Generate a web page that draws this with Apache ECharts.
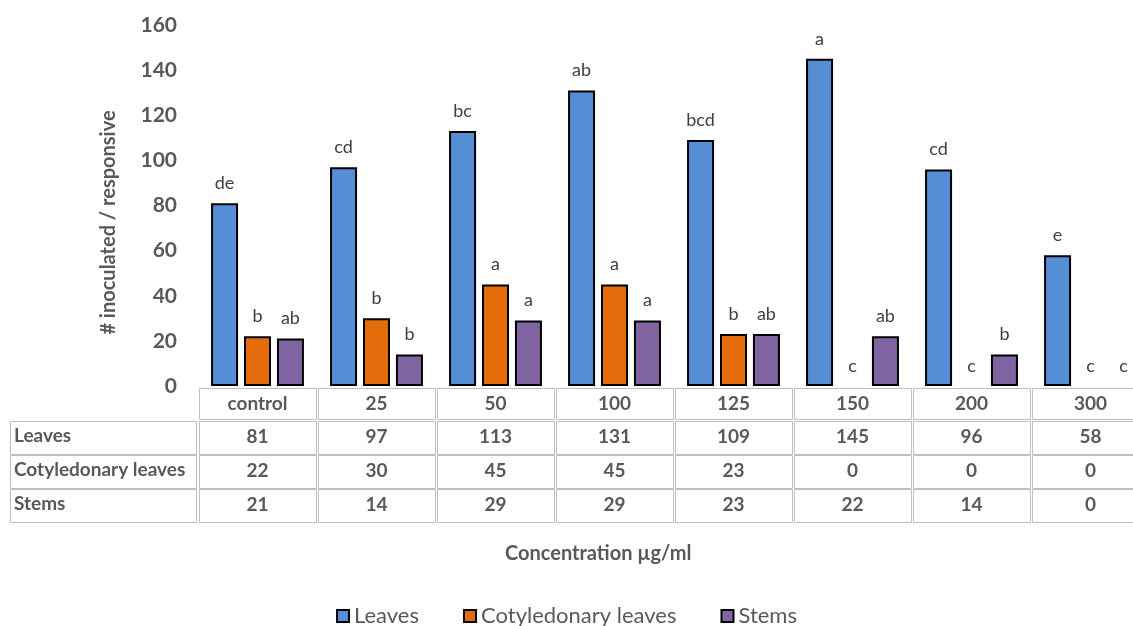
<!DOCTYPE html>
<html style="height: 100%">

<head>
    <meta charset="utf-8">
</head>

<body style="height: 100%; margin: 0; background: #fff">
    <div id="container" style="width: 1133px; height: 626px"></div>
    <script type="text/javascript" src="https://cdn.jsdelivr.net/npm/echarts@6/dist/echarts.min.js"></script>
    <script type="text/javascript">
        // chart data
        var categories = ['control', '25', '50', '100', '125', '150', '200', '300'];
        var leaves = [81, 97, 113, 131, 109, 145, 96, 58];
        var cotyledonary = [22, 30, 45, 45, 23, 0, 0, 0];
        var stems = [21, 14, 29, 29, 23, 22, 14, 0];
        var leavesSig = ['de', 'cd', 'bc', 'ab', 'bcd', 'a', 'cd', 'e'];
        var cotyledonarySig = ['b', 'b', 'a', 'a', 'b', 'c', 'c', 'c'];
        var stemsSig = ['ab', 'b', 'a', 'a', 'ab', 'ab', 'b', 'c'];
        var seriesNames = ['Leaves', 'Cotyledonary leaves', 'Stems'];
        var colors = ['#558ED5', '#E46C0A', '#8064A2'];

        var dom = document.getElementById('container');
        var myChart = echarts.init(dom);
        var font = 'Lato, "Open Sans", sans-serif';
        var gridLeft = 198, gridTop = 25, gridWidth = 952, gridBottomY = 386;
        var rowOffsets = [0, 33, 67, 101];
        var rows = [leaves, cotyledonary, stems];

        function barSeries(idx, values, sig) {
            return {
                name: seriesNames[idx],
                type: 'bar',
                xAxisIndex: 0,
                barWidth: 27,
                barGap: '22%',
                data: values.map(function (v) {
                    return v === 0 ? { value: v, itemStyle: { borderWidth: 0 } } : v;
                }),
                itemStyle: { color: colors[idx], borderColor: '#000', borderWidth: 2 },
                label: {
                    show: true,
                    position: 'top',
                    distance: 11,
                    fontFamily: font,
                    fontSize: 18,
                    color: '#404040',
                    formatter: function (p) { return sig[p.dataIndex]; }
                }
            };
        }

        // one x axis per table row, labels come from the row arrays
        var xAxes = rowOffsets.map(function (off, r) {
            return {
                type: 'category',
                data: categories,
                position: 'bottom',
                offset: off,
                axisLine: { show: false },
                axisTick: { show: false },
                axisLabel: {
                    margin: 8,
                    interval: 0,
                    fontFamily: font,
                    fontSize: 19,
                    fontWeight: 'bold',
                    color: '#595959',
                    formatter: function (v, i) {
                        return r === 0 ? v : String(rows[r - 1][i]);
                    }
                }
            };
        });

        var option = {
            backgroundColor: '#fff',
            animation: false,
            textStyle: { fontFamily: font },
            title: {
                text: 'Concentration µg/ml',
                left: 500,
                top: 539,
                textStyle: { fontFamily: font, fontSize: 20, fontWeight: 'bold', color: '#595959' }
            },
            legend: {
                bottom: -6,
                left: 'center',
                icon: 'rect',
                itemWidth: 12,
                itemHeight: 12,
                itemGap: 44,
                textStyle: { fontFamily: font, fontSize: 22, color: '#595959' },
                data: seriesNames
            },
            grid: {
                left: gridLeft,
                top: gridTop,
                width: gridWidth,
                height: gridBottomY - gridTop,
                outerBoundsMode: 'none'
            },
            xAxis: xAxes,
            yAxis: {
                type: 'value',
                min: 0,
                max: 160,
                interval: 20,
                name: '# inoculated / responsive',
                nameLocation: 'middle',
                nameGap: 79,
                nameTextStyle: {
                    fontFamily: font, fontSize: 20, fontWeight: 'bold', color: '#595959',
                    padding: [0, 34, 0, 0]
                },
                axisLine: { show: false },
                axisTick: { show: false },
                splitLine: { show: false },
                axisLabel: { margin: 21, fontFamily: font, fontSize: 21, fontWeight: 'bold', color: '#595959' }
            },
            series: [
                barSeries(0, leaves, leavesSig),
                barSeries(1, cotyledonary, cotyledonarySig),
                barSeries(2, stems, stemsSig)
            ]
        };
        myChart.setOption(option);

        // table cell borders, placed from the category axis
        var p0 = myChart.convertToPixel({ xAxisIndex: 0 }, 0);
        var p1 = myChart.convertToPixel({ xAxisIndex: 0 }, 1);
        var cw = p1 - p0;
        var rowTops = [388, 421, 455, 489];
        var rowH = [31, 33, 33, 33];
        var cell = function (x, y, w, h) {
            return {
                type: 'rect',
                shape: { x: x + 0.5, y: y + 0.5, width: w, height: h },
                style: { fill: 'none', stroke: '#BFBFBF', lineWidth: 1 },
                silent: true
            };
        };
        var graphics = [];
        rowTops.forEach(function (top, r) {
            categories.forEach(function (c, i) {
                var cx = myChart.convertToPixel({ xAxisIndex: 0 }, i);
                graphics.push(cell(cx - cw / 2 + 1, top, cw - 2, rowH[r]));
            });
            if (r > 0) {
                graphics.push(cell(10, top, gridLeft - 12, rowH[r]));
                graphics.push({
                    type: 'text',
                    left: 14,
                    top: top + rowH[r] / 2 - 11,
                    style: {
                        text: seriesNames[r - 1],
                        font: 'bold 19px ' + font,
                        fill: '#595959'
                    },
                    silent: true
                });
            }
        });
        myChart.setOption({ graphic: graphics });
    </script>
</body>

</html>
